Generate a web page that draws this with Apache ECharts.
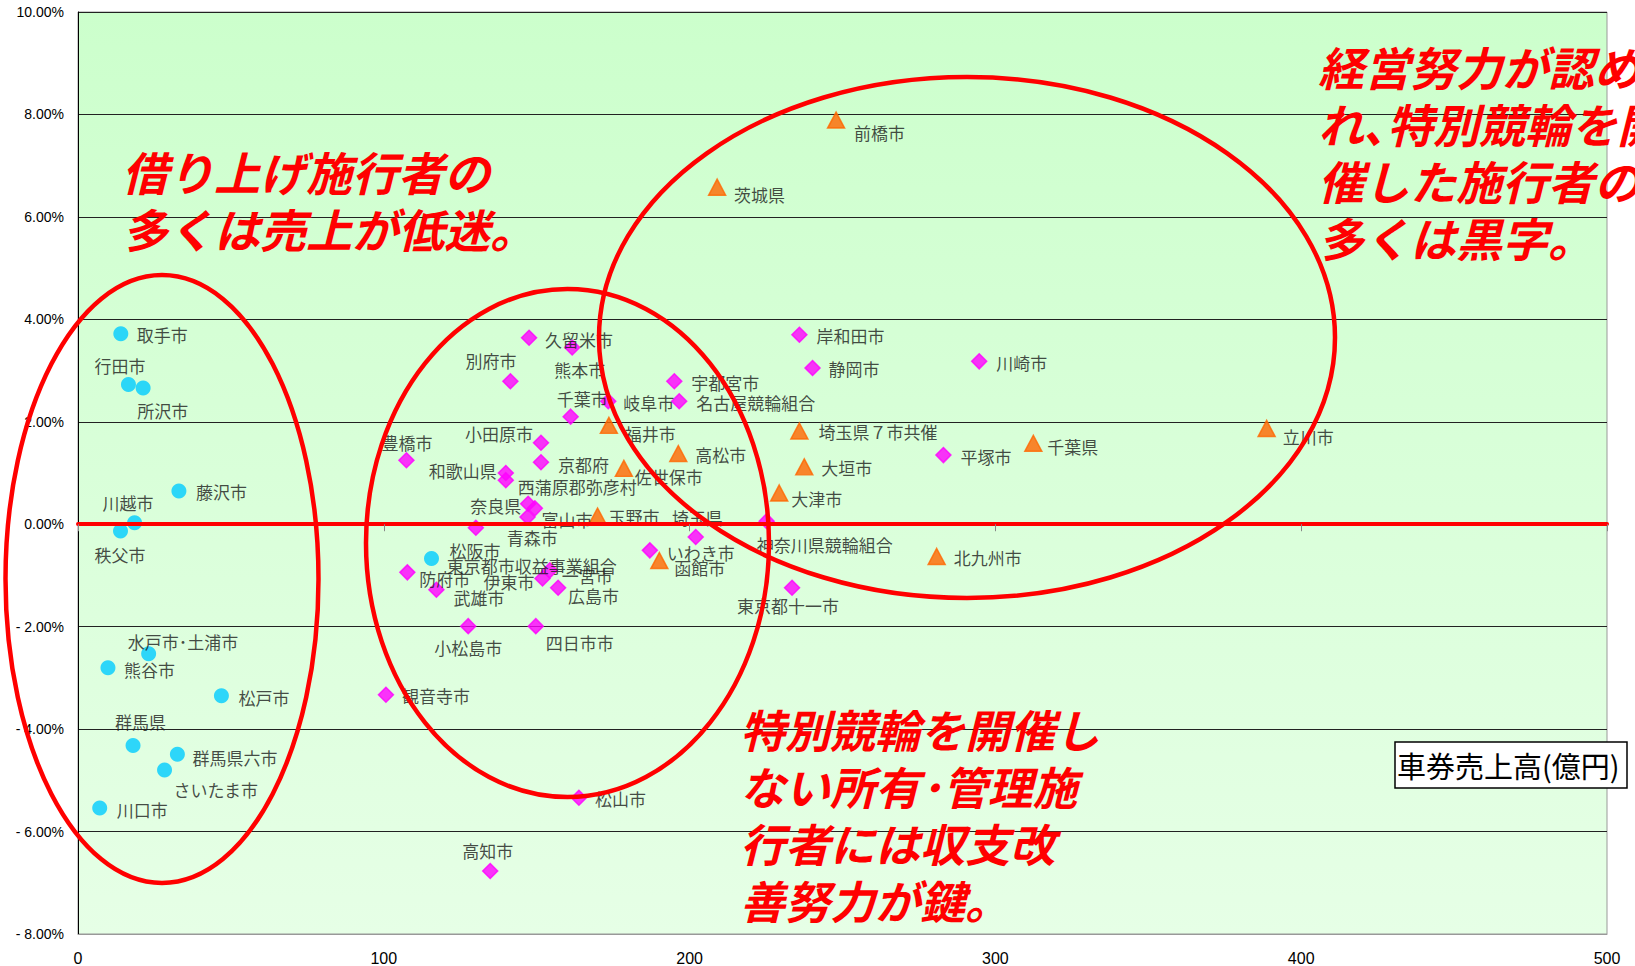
<!DOCTYPE html>
<html>
<head>
<meta charset="utf-8">
<title>車券売上高と収支率</title>
<script src="https://cdn.jsdelivr.net/npm/echarts@6/dist/echarts.min.js"></script>
<style>
html, body { margin: 0; padding: 0; background: #fff; }
#chart { width: 1635px; height: 966px; }
</style>
</head>
<body>
<div id="chart"></div>
<script>
// 借り上げ施行者 (cyan circles): 車券売上高(億円) / 収支率(%)
const leaseNames = ['取手市', '行田市', '所沢市', '藤沢市', '川越市', '秩父市', '水戸市･土浦市', '熊谷市', '松戸市', '群馬県', '群馬県六市', 'さいたま市', '川口市', '松阪市']
const leaseSales = [14.0, 16.5, 21.3, 33.0, 18.5, 13.9, 23.1, 9.8, 46.9, 18.0, 32.5, 28.3, 7.1, 115.6]
const leaseRate = [3.72, 2.73, 2.66, 0.65, 0.03, -0.13, -2.53, -2.80, -3.35, -4.32, -4.49, -4.80, -5.54, -0.67]

// 所有・管理施行者、特別競輪なし (magenta diamonds)
const ownNames = ['久留米市', '熊本市', '別府市', '千葉市', '岐阜市', '宇都宮市', '名古屋競輪組合', '小田原市', '豊橋市', '京都府',
  '和歌山県', '西蒲原郡弥彦村', '奈良県', '東京都市収益事業組合', '富山市', '青森市', '防府市', '武雄市', '伊東市', '一宮市',
  '広島市', '小松島市', '四日市市', '観音寺市', '松山市', '高知市', '埼玉県', 'いわき市', '神奈川県競輪組合', '東京都十一市',
  '岸和田市', '静岡市', '川崎市', '平塚市']
const ownSales = [147.5, 161.6, 141.4, 161.1, 173.4, 195.0, 196.6, 151.4, 107.4, 151.4,
  139.9, 139.9, 147.2, 149.4, 147.0, 130.1, 107.7, 117.2, 151.9, 154.3,
  157.0, 127.6, 149.7, 100.7, 163.8, 134.8, 202.0, 187.0, 225.2, 233.5,
  235.9, 240.2, 294.7, 283.0]
const ownRate = [3.64, 3.45, 2.79, 2.10, 2.40, 2.79, 2.40, 1.59, 1.25, 1.21,
  1.00, 0.86, 0.40, 0.31, 0.14, -0.07, -0.94, -1.28, -1.06, -0.90,
  -1.24, -1.99, -1.99, -3.33, -5.34, -6.77, -0.25, -0.51, 0.06, -1.24,
  3.70, 3.05, 3.18, 1.35]

// 特別競輪を開催した施行者 (orange triangles)
const specialNames = ['前橋市', '茨城県', '福井市', '高松市', '佐世保市', '玉野市', '函館市', '埼玉県７市共催', '大垣市', '大津市', '北九州市', '千葉県', '立川市']
const specialSales = [247.9, 209.0, 173.6, 196.3, 178.5, 169.9, 190.1, 235.9, 237.5, 229.3, 280.8, 312.4, 388.7]
const specialRate = [7.89, 6.58, 1.93, 1.38, 1.09, 0.16, -0.71, 1.82, 1.12, 0.61, -0.63, 1.58, 1.87]

// label placement (px from the marker centre to the label's left/middle)
const labelOffset = {
  '取手市': [16, 1], '行田市': [-34, -19], '所沢市': [-6, 23], '藤沢市': [17, 1], '川越市': [-32, -20], '秩父市': [-26, 24],
  '水戸市･土浦市': [-21, -12], '熊谷市': [16, 2], '松戸市': [17, 2], '群馬県': [-18, -24], '群馬県六市': [15, 3],
  'さいたま市': [9, 19], '川口市': [17, 2], '松阪市': [18, -8],
  '久留米市': [16, 2], '熊本市': [-18, 22], '別府市': [-45, -21], '千葉市': [-14, -18], '岐阜市': [15, 1], '宇都宮市': [17, 1],
  '名古屋競輪組合': [17, 1], '小田原市': [-76, -9], '豊橋市': [-25, -18], '京都府': [17, 2], '和歌山県': [-77, -3],
  '西蒲原郡弥彦村': [12, 6], '奈良県': [-58, 2], '東京都市収益事業組合': [-88, 57], '富山市': [14, 2], '青森市': [31, 10],
  '防府市': [12, 6], '武雄市': [17, 8], '伊東市': [-59, 3], '一宮市': [12, 5], '広島市': [10, 8], '小松島市': [-34, 21],
  '四日市市': [10, 16], '観音寺市': [16, 1], '松山市': [16, 1], '高知市': [-28, -20], '埼玉県': [-24, -20], 'いわき市': [17, 2],
  '神奈川県競輪組合': [-10, 23], '東京都十一市': [-55, 18], '岸和田市': [17, 1], '静岡市': [16, 1], '川崎市': [17, 1], '平塚市': [17, 1],
  '前橋市': [18, 12], '茨城県': [17, 7], '福井市': [16, 8], '高松市': [17, 1], '佐世保市': [11, 8], '玉野市': [11, 0],
  '函館市': [15, 7], '埼玉県７市共催': [19, 1], '大垣市': [17, 1], '大津市': [12, 6], '北九州市': [17, 1], '千葉県': [14, 3], '立川市': [16, 8]
}

const font = '"Noto Sans CJK JP", "Noto Sans CJK SC", sans-serif'

function items (names, xs, ys) {
  return names.map((n, i) => ({
    name: n,
    value: [xs[i], ys[i]],
    label: { offset: labelOffset[n] || [16, 1] }
  }))
}

const pointLabel = {
  show: true,
  position: 'inside',
  align: 'left',
  verticalAlign: 'middle',
  formatter: '{b}',
  color: '#1a1a1a',
  fontSize: 17,
  fontFamily: font
}

const chart = echarts.init(document.getElementById('chart'), null, { renderer: 'svg' })

const option = {
  animation: false,
  backgroundColor: '#fff',
  grid: {
    left: 78,
    top: 12,
    width: 1529,
    height: 922,
    show: true,
    borderColor: '#999',
    borderWidth: 1,
    backgroundColor: new echarts.graphic.LinearGradient(0, 0, 0, 1, [
      { offset: 0, color: '#ccffcc' },
      { offset: 1, color: '#e6ffe6' }
    ])
  },
  xAxis: [
    {
      type: 'value',
      min: 0,
      max: 500,
      interval: 100,
      axisLine: { onZero: false, lineStyle: { color: '#999' } },
      axisTick: { show: false },
      splitLine: { show: false },
      axisLabel: { fontSize: 16, color: '#000', margin: 16, fontFamily: 'Liberation Sans, Arial' }
    },
    {
      type: 'value',
      min: 0,
      max: 500,
      interval: 100,
      z: 10,
      axisLine: { onZero: true, lineStyle: { color: '#ff0000', width: 4 } },
      axisTick: { show: true, inside: true, length: 7, lineStyle: { color: '#888' } },
      axisLabel: { show: false },
      splitLine: { show: false }
    }
  ],
  yAxis: {
    type: 'value',
    min: -8,
    max: 10,
    interval: 2,
    axisLine: { show: true, onZero: false, lineStyle: { color: '#000' } },
    axisTick: { show: false },
    splitLine: { lineStyle: { color: '#222', width: 1 } },
    axisLabel: {
      fontSize: 14,
      color: '#000',
      margin: 14,
      fontFamily: 'Liberation Sans, Arial',
      formatter: v => (v < 0 ? '- ' + Math.abs(v).toFixed(2) : v.toFixed(2)) + '%'
    }
  },
  series: [
    {
      name: '借り上げ施行者',
      type: 'scatter',
      symbol: 'circle',
      symbolSize: 15,
      itemStyle: { color: '#00ccff' },
      label: pointLabel,
      emphasis: { disabled: true },
      data: items(leaseNames, leaseSales, leaseRate)
    },
    {
      name: '所有・管理施行者',
      type: 'scatter',
      symbol: 'diamond',
      symbolSize: 15,
      itemStyle: { color: '#ff00ff', borderColor: '#ff00ff', borderWidth: 1.5 },
      label: pointLabel,
      emphasis: { disabled: true },
      data: items(ownNames, ownSales, ownRate)
    },
    {
      name: '特別競輪開催',
      type: 'scatter',
      symbol: 'triangle',
      symbolSize: [17, 16],
      itemStyle: { color: '#ff6600', borderColor: '#ff6600', borderWidth: 1.5 },
      label: pointLabel,
      emphasis: { disabled: true },
      data: items(specialNames, specialSales, specialRate)
    }
  ],
  graphic: [
    // ellipses grouping the施行者
    { type: 'ellipse', z: 100, silent: true, shape: { cx: 162, cy: 579, rx: 156.5, ry: 304 }, style: { fill: 'none', stroke: '#ff0000', lineWidth: 4.5 } },
    { type: 'ellipse', z: 100, silent: true, shape: { cx: 567.5, cy: 543, rx: 201.5, ry: 254 }, style: { fill: 'none', stroke: '#ff0000', lineWidth: 4.5 } },
    { type: 'ellipse', z: 100, silent: true, shape: { cx: 967, cy: 337.5, rx: 368, ry: 260.5 }, style: { fill: 'none', stroke: '#ff0000', lineWidth: 4.5 } },
    {
      type: 'text', z: 100, x: 122, y: 142,
      style: { text: '借り上げ施行者の\n多くは売上が低迷。', fill: '#ff0000', fontSize: 46, fontWeight: 'bold', fontStyle: 'italic', fontFamily: font, lineHeight: 57, verticalAlign: 'top' }
    },
    {
      type: 'text', z: 100, x: 1318, y: 37,
      style: { text: '経営努力が認めら\nれ､特別競輪を開\n催した施行者の\n多くは黒字。', fill: '#ff0000', fontSize: 46, fontWeight: 'bold', fontStyle: 'italic', fontFamily: font, lineHeight: 57, verticalAlign: 'top' }
    },
    {
      type: 'text', z: 100, x: 740, y: 700,
      style: { text: '特別競輪を開催し\nない所有･管理施\n行者には収支改\n善努力が鍵。', fill: '#ff0000', fontSize: 45, fontWeight: 'bold', fontStyle: 'italic', fontFamily: font, lineHeight: 57, verticalAlign: 'top' }
    },
    // axis title box
    { type: 'rect', z: 100, shape: { x: 1395, y: 742, width: 232, height: 46 }, style: { fill: '#fff', stroke: '#000', lineWidth: 1.5 } },
    {
      type: 'text', z: 101, x: 1397, y: 765,
      style: { text: '車券売上高(億円)', fill: '#000', fontSize: 29, fontFamily: font, verticalAlign: 'middle' }
    }
  ]
}

chart.setOption(option)
</script>
</body>
</html>
